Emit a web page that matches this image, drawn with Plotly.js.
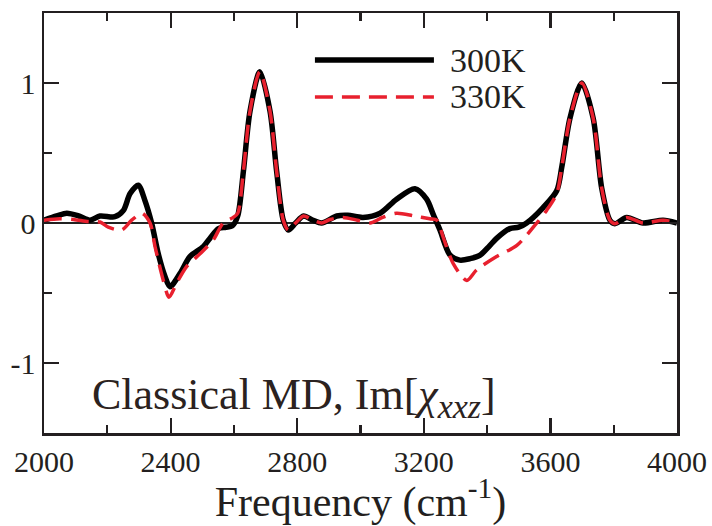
<!DOCTYPE html>
<html>
<head>
<meta charset="utf-8">
<script src="https://cdn.plot.ly/plotly-3.0.1.min.js"></script>
<style>html,body{margin:0;padding:0;background:#fff;}#chart{width:712px;height:526px;}</style>
</head>
<body>
<div id="chart"></div>
<script>
// Frequency (cm^-1) and Im[chi_xxz] for 300K
var freq300 = [2000,2040,2072,2110,2145,2177,2224,2251,2272,2298,2319,2340,2361,2382,2398,2430,2461,2503,2524,2551,2575,2595,2612,2630,2651,2682,2714,2735,2756,2772,2795,2820,2850,2877,2925,2960,3008,3062,3114,3172,3209,3230,3251,3283,3314,3346,3378,3405,3430,3472,3500,3525,3577,3620,3636,3662,3699,3735,3762,3788,3804,3841,3893,3956,4000];
var chi300  = [0.02,0.05,0.07,0.05,0.02,0.05,0.045,0.09,0.21,0.27,0.16,0.0,-0.22,-0.38,-0.455,-0.36,-0.24,-0.17,-0.11,-0.04,-0.03,-0.02,0.05,0.37,0.8,1.08,0.8,0.37,0.02,-0.05,0.0,0.05,0.02,0.0,0.05,0.055,0.04,0.07,0.17,0.245,0.17,0.06,-0.05,-0.23,-0.265,-0.255,-0.23,-0.17,-0.11,-0.04,-0.03,0.0,0.11,0.23,0.4,0.75,1.0,0.75,0.25,0.02,-0.005,0.04,0.0,0.02,0.0];
// Frequency (cm^-1) and Im[chi_xxz] for 330K
var freq330 = [2000,2050,2093,2140,2177,2203,2245,2277,2309,2335,2351,2377,2395,2419,2451,2493,2535,2566,2598,2612,2630,2651,2682,2714,2735,2756,2772,2795,2820,2850,2877,2904,2945,2990,3030,3070,3114,3170,3219,3241,3261,3293,3336,3367,3430,3494,3546,3588,3620,3636,3662,3699,3735,3762,3788,3804,3841,3893,3956,4000];
var chi330  = [0.02,0.03,0.025,0.01,0.007,-0.03,-0.05,0.02,0.07,0.0,-0.17,-0.41,-0.53,-0.43,-0.31,-0.22,-0.12,0.0,0.04,0.07,0.37,0.8,1.08,0.8,0.37,0.02,-0.05,0.0,0.05,0.02,0.0,0.025,0.04,0.02,0.0,0.04,0.07,0.05,0.03,0.02,-0.1,-0.29,-0.41,-0.335,-0.24,-0.16,-0.03,0.09,0.21,0.4,0.75,1.0,0.75,0.25,0.02,-0.005,0.04,0.0,0.02,0.0];

var seriesNames = ['300K', '330K'];
var xTickVals = [2000, 2400, 2800, 3200, 3600, 4000];
var xTickText = ['2000', '2400', '2800', '3200', '3600', '4000'];
var yTickVals = [-1, 0, 1];
var yTickText = ['-1', '0', '1'];
var xTitle = 'Frequency (cm<sup>-1</sup>)';
var panelLabel = 'Classical MD, Im[<i>χ</i><sub><i><span style="font-size:34px">xxz</span></i></sub>]';

var serif = '"Liberation Serif", "Times New Roman", serif';
var ink = '#231f20';
var red = '#e8202e';

var traces = [
  {x: freq300, y: chi300, name: seriesNames[0], mode: 'lines',
   line: {color: '#000', width: 5.5, shape: 'spline', smoothing: 0.8}, showlegend: false},
  {x: freq330, y: chi330, name: seriesNames[1], mode: 'lines',
   line: {color: red, width: 3.5, shape: 'spline', smoothing: 0.8, dash: '18px,9px'}, showlegend: false}
];

var axisCommon = {
  showline: true, linecolor: ink, linewidth: 2.5, mirror: 'ticks',
  ticks: 'inside', ticklen: 15, tickwidth: 2.2, tickcolor: ink,
  showgrid: false, tickfont: {family: serif, size: 30, color: ink}
};

var layout = {
  width: 712, height: 526,
  margin: {l: 44, r: 35, t: 13, b: 93},
  paper_bgcolor: '#fff', plot_bgcolor: '#fff',
  font: {family: serif, color: ink},
  xaxis: Object.assign({}, axisCommon, {
    range: [2000, 4000], tickmode: 'array', tickvals: xTickVals, ticktext: xTickText,
    minor: {dtick: 200, tick0: 2000, ticklen: 8, tickwidth: 2.2, tickcolor: ink, ticks: 'inside', showgrid: false},
    zeroline: false,
    title: {text: xTitle, font: {family: serif, size: 42, color: ink}, standoff: 4}
  }),
  yaxis: Object.assign({}, axisCommon, {
    range: [-1.5, 1.5], tickmode: 'array', tickvals: yTickVals, ticktext: yTickText,
    minor: {dtick: 0.5, tick0: 0, ticklen: 8, tickwidth: 2.2, tickcolor: ink, ticks: 'inside', showgrid: false},
    zeroline: true, zerolinecolor: '#222', zerolinewidth: 1.5
  }),
  shapes: [
    {type: 'line', xref: 'paper', yref: 'paper', x0: 0.428, x1: 0.616, y0: 0.888, y1: 0.888,
     line: {color: '#000', width: 5.5}},
    {type: 'line', xref: 'paper', yref: 'paper', x0: 0.428, x1: 0.616, y0: 0.8, y1: 0.8,
     line: {color: red, width: 3.5, dash: '18px,9px'}}
  ],
  annotations: [
    {text: seriesNames[0], xref: 'paper', yref: 'paper', x: 0.638, y: 0.888, xanchor: 'left', yanchor: 'middle',
     showarrow: false, font: {family: serif, size: 34, color: ink}},
    {text: seriesNames[1], xref: 'paper', yref: 'paper', x: 0.638, y: 0.8, xanchor: 'left', yanchor: 'middle',
     showarrow: false, font: {family: serif, size: 34, color: ink}},
    {text: panelLabel, xref: 'paper', yref: 'paper', x: 0.072, y: 0.085, xanchor: 'left', yanchor: 'middle',
     showarrow: false, font: {family: serif, size: 44, color: '#2b2220'}}
  ],
  showlegend: false
};

Plotly.newPlot('chart', traces, layout, {displayModeBar: false, staticPlot: true});
</script>
</body>
</html>
